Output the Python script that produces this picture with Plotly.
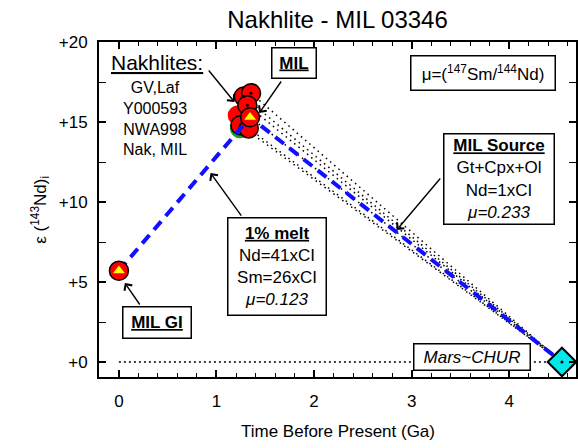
import plotly.graph_objects as go

# ---- data ----
gi_age = [0.0]
gi_eps = [5.7]
mil_age = [1.344]
mil_eps = [15.3]
source_age = [4.54]
source_eps = [0.0]
nakh_age = [1.22, 1.24, 1.28, 1.354, 1.316, 1.245, 1.33]
nakh_eps = [15.4, 14.6, 16.6, 16.8, 16.05, 14.8, 14.6]
x_ticks = [0, 1, 2, 3, 4]
x_ticktext = ["0", "1", "2", "3", "4"]
y_ticks = [0, 5, 10, 15, 20]
y_ticktext = ["+0", "+5", "+10", "+15", "+20"]

FONT = "Liberation Sans, Arial, Helvetica, sans-serif"
XR = [-0.204, 4.684]
YR = [-0.9375, 20]

fig = go.Figure()

# dotted evolution lines from each nakhlite to the source point
dx, dy = [], []
for a, e in zip(nakh_age[2:] + mil_age, nakh_eps[2:] + mil_eps):
    dx += [a, source_age[0], None]
    dy += [e, source_eps[0], None]
fig.add_trace(go.Scatter(x=dx, y=dy, mode="lines",
                         line=dict(color="black", width=1.5, dash="1.5px,4px"),
                         hoverinfo="skip"))

# CHUR line
fig.add_trace(go.Scatter(x=[gi_age[0], source_age[0]], y=[source_eps[0], source_eps[0]],
                         mode="lines", line=dict(color="black", width=1.4, dash="2px,3px"),
                         hoverinfo="skip"))

# nakhlite cluster (background circles)
fig.add_trace(go.Scatter(x=nakh_age[:1], y=nakh_eps[:1], mode="markers",
                         marker=dict(size=19, color="red", line=dict(color="red", width=1.5))))
fig.add_trace(go.Scatter(x=nakh_age[1:2], y=nakh_eps[1:2], mode="markers",
                         marker=dict(size=19, color="#1a9a1a", line=dict(color="#1a9a1a", width=1))))
fig.add_trace(go.Scatter(x=nakh_age[2:], y=nakh_eps[2:], mode="markers",
                         marker=dict(size=19, color="red", line=dict(color="black", width=1.5))))
fig.add_trace(go.Scatter(x=nakh_age[2:6], y=nakh_eps[2:6], mode="markers",
                         marker=dict(size=3, color="black")))

# model path (blue dashed)
fig.add_trace(go.Scatter(x=gi_age + mil_age + source_age, y=gi_eps + mil_eps + source_eps,
                         mode="lines", line=dict(color="#1010ff", width=4, dash="11px,7px"),
                         hoverinfo="skip"))

# MIL and MIL GI points: red circle + yellow triangle
pt_age = mil_age + gi_age
pt_eps = mil_eps + gi_eps
fig.add_trace(go.Scatter(x=pt_age, y=pt_eps, mode="markers",
                         marker=dict(size=19, color="red", line=dict(color="black", width=1.5))))
fig.add_trace(go.Scatter(x=pt_age, y=pt_eps, mode="markers",
                         marker=dict(symbol="triangle-up", size=13, color="#ffff00",
                                     line=dict(color="red", width=1.5))))

# source diamond
fig.add_trace(go.Scatter(x=source_age, y=source_eps, mode="markers",
                         marker=dict(symbol="diamond", size=22, color="#00e8e8",
                                     line=dict(color="black", width=2))))
fig.add_trace(go.Scatter(x=source_age, y=source_eps, mode="markers",
                         marker=dict(size=3, color="black")))

# invisible trace on mirror axes (top/right ticks)
fig.add_trace(go.Scatter(x=[None], y=[None], xaxis="x2", yaxis="y2", mode="markers",
                         hoverinfo="skip"))

anns = []


def box(x, y, text, w, h, size=17, align="center"):
    anns.append(dict(x=x, y=y, xref="x", yref="y", text=text, showarrow=False,
                     font=dict(family=FONT, size=size, color="black"),
                     bgcolor="white", bordercolor="black", borderwidth=1.5, borderpad=1,
                     width=w - 5, height=h - 5, align=align, valign="middle",
                     xanchor="center", yanchor="middle"))


def arrow(hx, hy, tx, ty):
    anns.append(dict(x=hx, y=hy, ax=tx, ay=ty, xref="x", yref="y", axref="x", ayref="y",
                     text="", showarrow=True, arrowhead=4, arrowsize=1.3, arrowwidth=1.4,
                     arrowcolor="black", standoff=0, startstandoff=0))


box(1.796, 18.69, "<b><u>MIL</u></b>", 46, 32)
box(3.735, 18.06, "μ=(<sup>147</sup>Sm/<sup>144</sup>Nd)", 146, 36)
box(3.898, 11.44, "<b><u>MIL Source</u></b><br>Gt+Cpx+Ol<br>Nd=1xCI<br><i>μ=0.233</i>", 112, 92)
box(1.622, 5.97, "<b><u>1% melt</u></b><br>Nd=41xCI<br>Sm=26xCI<br><i>μ=0.123</i>", 100, 99)
box(0.388, 2.47, "<b><u>MIL GI</u></b>", 70, 33)
box(3.622, 0.3125, "<i>Mars~CHUR</i>", 118, 28)

anns.append(dict(x=0.388, y=18.75, xref="x", yref="y", showarrow=False,
                 text="<u>Nakhlites:</u>", font=dict(family=FONT, size=21, color="black"),
                 xanchor="center", yanchor="middle"))
anns.append(dict(x=0.367, y=15.22, xref="x", yref="y", showarrow=False,
                 text="GV,Laf<br>Y000593<br>NWA998<br>Nak, MIL",
                 font=dict(family=FONT, size=16, color="black"),
                 xanchor="center", yanchor="middle", align="center"))

arrow(1.184, 16.25, 0.908, 18.31)
arrow(1.439, 15.56, 1.673, 17.625)
arrow(2.847, 8.25, 3.306, 11.56)
arrow(0.939, 11.81, 1.265, 9.06)
arrow(0.061, 4.94, 0.224, 3.5)

# axis titles
anns.append(dict(x=-0.1232, y=0.5, xref="paper", yref="paper", showarrow=False,
                 text="ε (<sup>143</sup>Nd)<sub>i</sub>", textangle=-90,
                 font=dict(family=FONT, size=17, color="black"),
                 xanchor="center", yanchor="middle"))
anns.append(dict(x=0.5, y=-0.164, xref="paper", yref="paper", showarrow=False,
                 text="Time Before Present (Ga)",
                 font=dict(family=FONT, size=17, color="black"),
                 xanchor="center", yanchor="middle"))

fig.update_layout(
    width=578, height=448,
    margin=dict(l=99, r=0, t=42, b=71),
    paper_bgcolor="white", plot_bgcolor="white",
    showlegend=False,
    font=dict(family=FONT, size=17, color="black"),
    title=dict(text="Nakhlite - MIL 03346", x=0.5, xref="paper", xanchor="center",
               y=1 - 20 / 448, yref="container", yanchor="middle",
               font=dict(family=FONT, size=24, color="black")),
    annotations=anns,
)

tickstyle = dict(ticks="inside", ticklen=7, tickwidth=1.5, tickcolor="black")
fig.update_layout(
    xaxis=dict(range=XR, showgrid=False, zeroline=False,
               showline=True, linecolor="black", linewidth=2, mirror=True,
               tickmode="array", tickvals=x_ticks, ticktext=x_ticktext,
               tickfont=dict(family=FONT, size=17, color="black"),
               ticklabelstandoff=8,
               minor=dict(ticks="inside", ticklen=4, tickwidth=1.3, tickcolor="black",
                          tickmode="linear", tick0=0, dtick=0.2),
               **tickstyle),
    yaxis=dict(range=YR, showgrid=False, zeroline=False,
               showline=True, linecolor="black", linewidth=2, mirror=True,
               tickmode="array", tickvals=y_ticks, ticktext=y_ticktext,
               tickfont=dict(family=FONT, size=17, color="black"),
               ticklabelstandoff=6,
               minor=dict(ticks="inside", ticklen=7, tickwidth=1.3, tickcolor="black",
                          tickmode="linear", tick0=0, dtick=2.5),
               **tickstyle),
    xaxis2=dict(range=XR, overlaying="x", side="top", anchor="y", showgrid=False,
                zeroline=False, showline=False, showticklabels=False,
                tickmode="array", tickvals=x_ticks,
                minor=dict(ticks="inside", ticklen=4, tickwidth=1.3, tickcolor="black",
                           tickmode="linear", tick0=0, dtick=0.2),
                **tickstyle),
    yaxis2=dict(range=YR, overlaying="y", side="right", anchor="x", showgrid=False,
                zeroline=False, showline=False, showticklabels=False,
                tickmode="array", tickvals=y_ticks,
                minor=dict(ticks="inside", ticklen=7, tickwidth=1.3, tickcolor="black",
                           tickmode="linear", tick0=0, dtick=2.5),
                **tickstyle),
)

fig.write_html("out.html")
